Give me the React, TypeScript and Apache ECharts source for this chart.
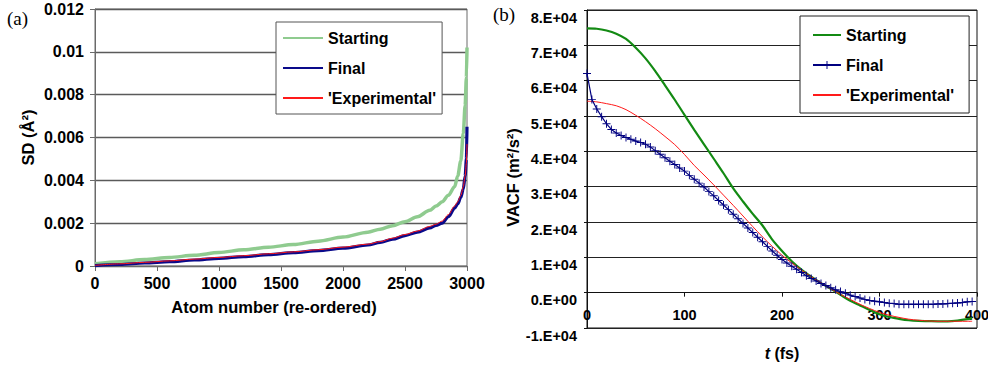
import React, { useEffect, useRef } from 'react';
import * as echarts from 'echarts';

// ---------- Panel (a): SD vs atom number ----------
const SD_ATOM = [0, 200, 400, 600, 800, 1000, 1200, 1400, 1600, 1800, 2000, 2200, 2300, 2400, 2500, 2600, 2700, 2750, 2800, 2850, 2900, 2925, 2950, 2970, 2985, 2995, 3000];
const SD_STARTING = [0.0001, 0.0002, 0.0003, 0.0004, 0.0005, 0.00063, 0.00076, 0.00088, 0.001, 0.00116, 0.00135, 0.00158, 0.00172, 0.00188, 0.00207, 0.0023, 0.0026, 0.0028, 0.003, 0.0033, 0.0037, 0.0042, 0.0049, 0.0062, 0.0075, 0.0088, 0.0102];
const SD_FINAL = [0.00002, 0.00007, 0.00014, 0.0002, 0.00028, 0.00036, 0.00044, 0.00053, 0.00062, 0.00072, 0.00083, 0.00098, 0.0011, 0.00125, 0.00142, 0.00158, 0.00178, 0.0019, 0.002, 0.0023, 0.0027, 0.0029, 0.0032, 0.0036, 0.0042, 0.005, 0.0065];
const SD_EXPERIMENTAL = [0.00003, 0.0001, 0.00017, 0.00024, 0.00032, 0.0004, 0.00048, 0.00057, 0.00066, 0.00076, 0.00088, 0.00102, 0.00114, 0.0013, 0.00147, 0.00163, 0.00185, 0.00195, 0.0021, 0.0024, 0.0028, 0.003, 0.0033, 0.0037, 0.0042, 0.0048, 0.0057];

// ---------- Panel (b): VACF vs t ----------
const VACF_T = [0, 10, 20, 30, 40, 50, 60, 70, 80, 90, 100, 110, 120, 130, 140, 150, 160, 170, 180, 190, 200, 210, 220, 230, 240, 250, 260, 270, 280, 290, 300, 310, 320, 330, 340, 350, 360, 370, 380, 390, 395];
const VACF_STARTING = [74800, 74700, 74200, 73300, 71800, 69300, 66300, 62700, 58700, 54600, 50300, 46100, 42000, 37900, 33800, 29500, 25800, 22300, 19000, 15000, 11800, 8900, 6500, 4500, 2700, 1100, -600, -2300, -3600, -4900, -6100, -6900, -7400, -7800, -8000, -8050, -8100, -8100, -7900, -7500, -7200];
const VACF_EXPERIMENTAL = [54200, 54000, 53500, 52900, 51800, 50200, 48400, 46400, 44200, 41900, 39100, 36000, 33300, 30500, 27600, 24700, 21700, 18700, 15800, 13100, 10600, 8400, 6400, 4500, 2800, 1100, -500, -1900, -3300, -4500, -5600, -6400, -7000, -7500, -7800, -8000, -8100, -8100, -8100, -8100, -8100];
const FINAL_T = [0, 5, 10, 15, 20, 25, 30, 35, 40, 45, 50, 55, 60, 65, 70, 75, 80, 85, 90, 95, 100, 105, 110, 115, 120, 125, 130, 135, 140, 145, 150, 155, 160, 165, 170, 175, 180, 185, 190, 195, 200, 205, 210, 215, 220, 225, 230, 235, 240, 245, 250, 255, 260, 265, 270, 275, 280, 285, 290, 295, 300, 305, 310, 315, 320, 325, 330, 335, 340, 345, 350, 355, 360, 365, 370, 375, 380, 385, 390, 395];
const VACF_FINAL = [62000, 54700, 52000, 49800, 47800, 46200, 45200, 44500, 43900, 43400, 42900, 42500, 42000, 41200, 40200, 39200, 38200, 37200, 36300, 35300, 34400, 33200, 32100, 31000, 29900, 28600, 27400, 26100, 24800, 23500, 22200, 20900, 19600, 18300, 17000, 15700, 14400, 13100, 11800, 10600, 9400, 8400, 7500, 6600, 5700, 4800, 4000, 3300, 2600, 2000, 1400, 800, 300, -200, -700, -1100, -1500, -1900, -2200, -2400, -2600, -2800, -3000, -3100, -3300, -3300, -3300, -3300, -3300, -3300, -3300, -3300, -3200, -3200, -3100, -3000, -2900, -2800, -2600, -2500];

const LEGEND_NAMES = ['Starting', 'Final', "'Experimental'"];
const VACF_MIN = -10000;
const VACF_MAX = 80000;
const VACF_STEP = 10000;

const FONT = '"Liberation Sans", Arial, Helvetica, sans-serif';
const PLUS = 'path://M4.4,0H5.6V4.4H10V5.6H5.6V10H4.4V5.6H0V4.4H4.4Z';

const zip = (xs: number[], ys: number[]) => xs.map((x, i) => [x, ys[i]]);

export default function App() {
  const ref = useRef<HTMLDivElement>(null);
  useEffect(() => {
    if (!ref.current) return;
    const chart = echarts.init(ref.current, null, { renderer: 'svg' });
    const labelStyle = { color: '#000', fontFamily: FONT, fontWeight: 'bold' as const };
    const noSym = { itemStyle: { opacity: 0 } };
    // right grid geometry: top 10, bottom 43 => plot height 318
    const rightTop = 10;
    const rightBottom = 43;
    const plotH = 371 - rightTop - rightBottom;
    const zeroOffset = (plotH * (0 - VACF_MIN)) / (VACF_MAX - VACF_MIN); // px from bottom to zero line
    const option: any = {
      animation: false,
      backgroundColor: '#fff',
      textStyle: { fontFamily: FONT },
      grid: [
        { left: 95, right: 521, top: 9, bottom: 105, show: true, borderColor: '#6a6a6a', borderWidth: 1, containLabel: false, outerBoundsMode: 'none' },
        { left: 587, right: 11, top: rightTop, bottom: rightBottom, show: true, borderColor: '#111', borderWidth: 1, containLabel: false, outerBoundsMode: 'none' },
      ],
      xAxis: [
        {
          type: 'value', gridIndex: 0, min: 0, max: 3000, interval: 500,
          name: 'Atom number (re-ordered)', nameLocation: 'middle', nameGap: 32,
          nameTextStyle: { ...labelStyle, fontSize: 16.5, padding: [0, 14, 0, 0] },
          axisLine: { show: true, onZero: false, lineStyle: { color: '#6a6a6a', width: 1 } },
          axisTick: { show: true, length: 5, lineStyle: { color: '#6a6a6a' } },
          axisLabel: { ...labelStyle, fontSize: 16, margin: 9, formatter: (v: number) => String(v) },
          splitLine: { show: false },
        },
        {
          type: 'value', gridIndex: 1, min: 0, max: 400, interval: 100,
          offset: -zeroOffset,
          name: '{i|t} (fs)', nameLocation: 'middle', nameGap: 53,
          nameTextStyle: { ...labelStyle, fontSize: 16, rich: { i: { ...labelStyle, fontSize: 16, fontStyle: 'italic' } } },
          axisLine: { show: true, onZero: false, lineStyle: { color: '#111', width: 1 } },
          axisTick: { show: true, length: 4, lineStyle: { color: '#111' } },
          axisLabel: { ...labelStyle, fontSize: 14.5, margin: 15, formatter: (v: number) => String(v) },
          splitLine: { show: false },
        },
      ],
      yAxis: [
        {
          type: 'value', gridIndex: 0, min: 0, max: 0.012, interval: 0.002,
          name: 'SD (Å²)', nameLocation: 'middle', nameGap: 59, nameRotate: 90,
          nameTextStyle: { ...labelStyle, fontSize: 16.5 },
          axisLine: { show: true, lineStyle: { color: '#6a6a6a', width: 1 } },
          axisTick: { show: true, length: 5, lineStyle: { color: '#6a6a6a' } },
          axisLabel: { ...labelStyle, fontSize: 16, margin: 11, formatter: (v: number) => String(Number(v.toFixed(4))) },
          splitLine: { show: true, lineStyle: { color: '#5a5a5a', width: 1.3 } },
        },
        {
          type: 'value', gridIndex: 1, min: VACF_MIN, max: VACF_MAX, interval: VACF_STEP,
          name: 'VACF (m²/s²)', nameLocation: 'middle', nameGap: 62, nameRotate: 90,
          nameTextStyle: { ...labelStyle, fontSize: 16.5, padding: [0, 17, 0, 0] },
          axisLine: { show: true, onZero: false, lineStyle: { color: '#111', width: 1 } },
          axisTick: { show: true, length: 3, lineStyle: { color: '#111' } },
          axisLabel: { ...labelStyle, fontSize: 14.5, margin: 10, verticalAlign: 'top',
            formatter: (v: number) => (v === 0 ? '0.E+00' : `${Math.round(v / 10000)}.E+04`) },
          splitLine: { show: true, lineStyle: { color: '#222', width: 1 } },
        },
      ],
      legend: [
        {
          left: 276, top: 22, orient: 'vertical', selectedMode: false,
          data: LEGEND_NAMES.map((n) => ({ name: n, ...noSym })),
          backgroundColor: '#fff', borderColor: '#555', borderWidth: 1,
          padding: [6, 6, 6, 6], itemGap: 10, itemWidth: 40, itemHeight: 12,
          textStyle: { ...labelStyle, fontSize: 16, lineHeight: 20 },
        },
        {
          left: 800, top: 16, orient: 'vertical', selectedMode: false,
          data: [
            { name: 'Starting (b)', ...noSym },
            { name: 'Final (b)' },
            { name: "'Experimental' (b)", ...noSym },
          ],
          formatter: (n: string) => n.replace(' (b)', ''),
          backgroundColor: '#fff', borderColor: '#222', borderWidth: 1,
          padding: [9, 15, 8, 12], itemGap: 10, itemWidth: 28, itemHeight: 10,
          textStyle: { ...labelStyle, fontSize: 16, lineHeight: 20 },
        },
      ],
      series: [
        {
          name: 'Starting', type: 'line', xAxisIndex: 0, yAxisIndex: 0, data: zip(SD_ATOM, SD_STARTING),
          symbol: 'none', smooth: 0.3, smoothMonotone: 'x', lineStyle: { color: '#8fcb8f', width: 3.5 }, itemStyle: { color: '#8fcb8f' },
        },
        {
          name: 'Final', type: 'line', xAxisIndex: 0, yAxisIndex: 0, data: zip(SD_ATOM, SD_FINAL),
          symbol: 'none', smooth: 0.3, smoothMonotone: 'x', lineStyle: { color: '#0a0a8a', width: 3.2 }, itemStyle: { color: '#0a0a8a' },
        },
        {
          name: "'Experimental'", type: 'line', xAxisIndex: 0, yAxisIndex: 0, data: zip(SD_ATOM, SD_EXPERIMENTAL),
          symbol: 'none', smooth: 0.3, smoothMonotone: 'x', lineStyle: { color: '#ff1a1a', width: 1 }, itemStyle: { color: '#ff1a1a' },
        },
        {
          name: 'Starting (b)', type: 'line', xAxisIndex: 1, yAxisIndex: 1, data: zip(VACF_T, VACF_STARTING),
          symbol: 'none', smooth: 0.3, lineStyle: { color: '#138a13', width: 2.2 }, itemStyle: { color: '#138a13' },
        },
        {
          name: "'Experimental' (b)", type: 'line', xAxisIndex: 1, yAxisIndex: 1, data: zip(VACF_T, VACF_EXPERIMENTAL),
          symbol: 'none', smooth: 0.3, lineStyle: { color: '#ff1a1a', width: 1 }, itemStyle: { color: '#ff1a1a' },
        },
        {
          name: 'Final (b)', type: 'line', xAxisIndex: 1, yAxisIndex: 1, data: zip(FINAL_T, VACF_FINAL),
          symbol: PLUS, symbolSize: 8, showSymbol: true,
          lineStyle: { color: '#000080', width: 1.2 }, itemStyle: { color: '#000080' },
        },
      ],
      graphic: [
        { type: 'text', left: 7, top: 9, style: { text: '(a)', font: '19px "Liberation Serif", "Times New Roman", serif', fill: '#000' } },
        { type: 'text', left: 493, top: 5, style: { text: '(b)', font: '19px "Liberation Serif", "Times New Roman", serif', fill: '#000' } },
      ],
    };
    chart.setOption(option);
    return () => chart.dispose();
  }, []);
  return <div ref={ref} style={{ position: 'absolute', left: 0, top: 0, width: 988, height: 371 }} />;
}
